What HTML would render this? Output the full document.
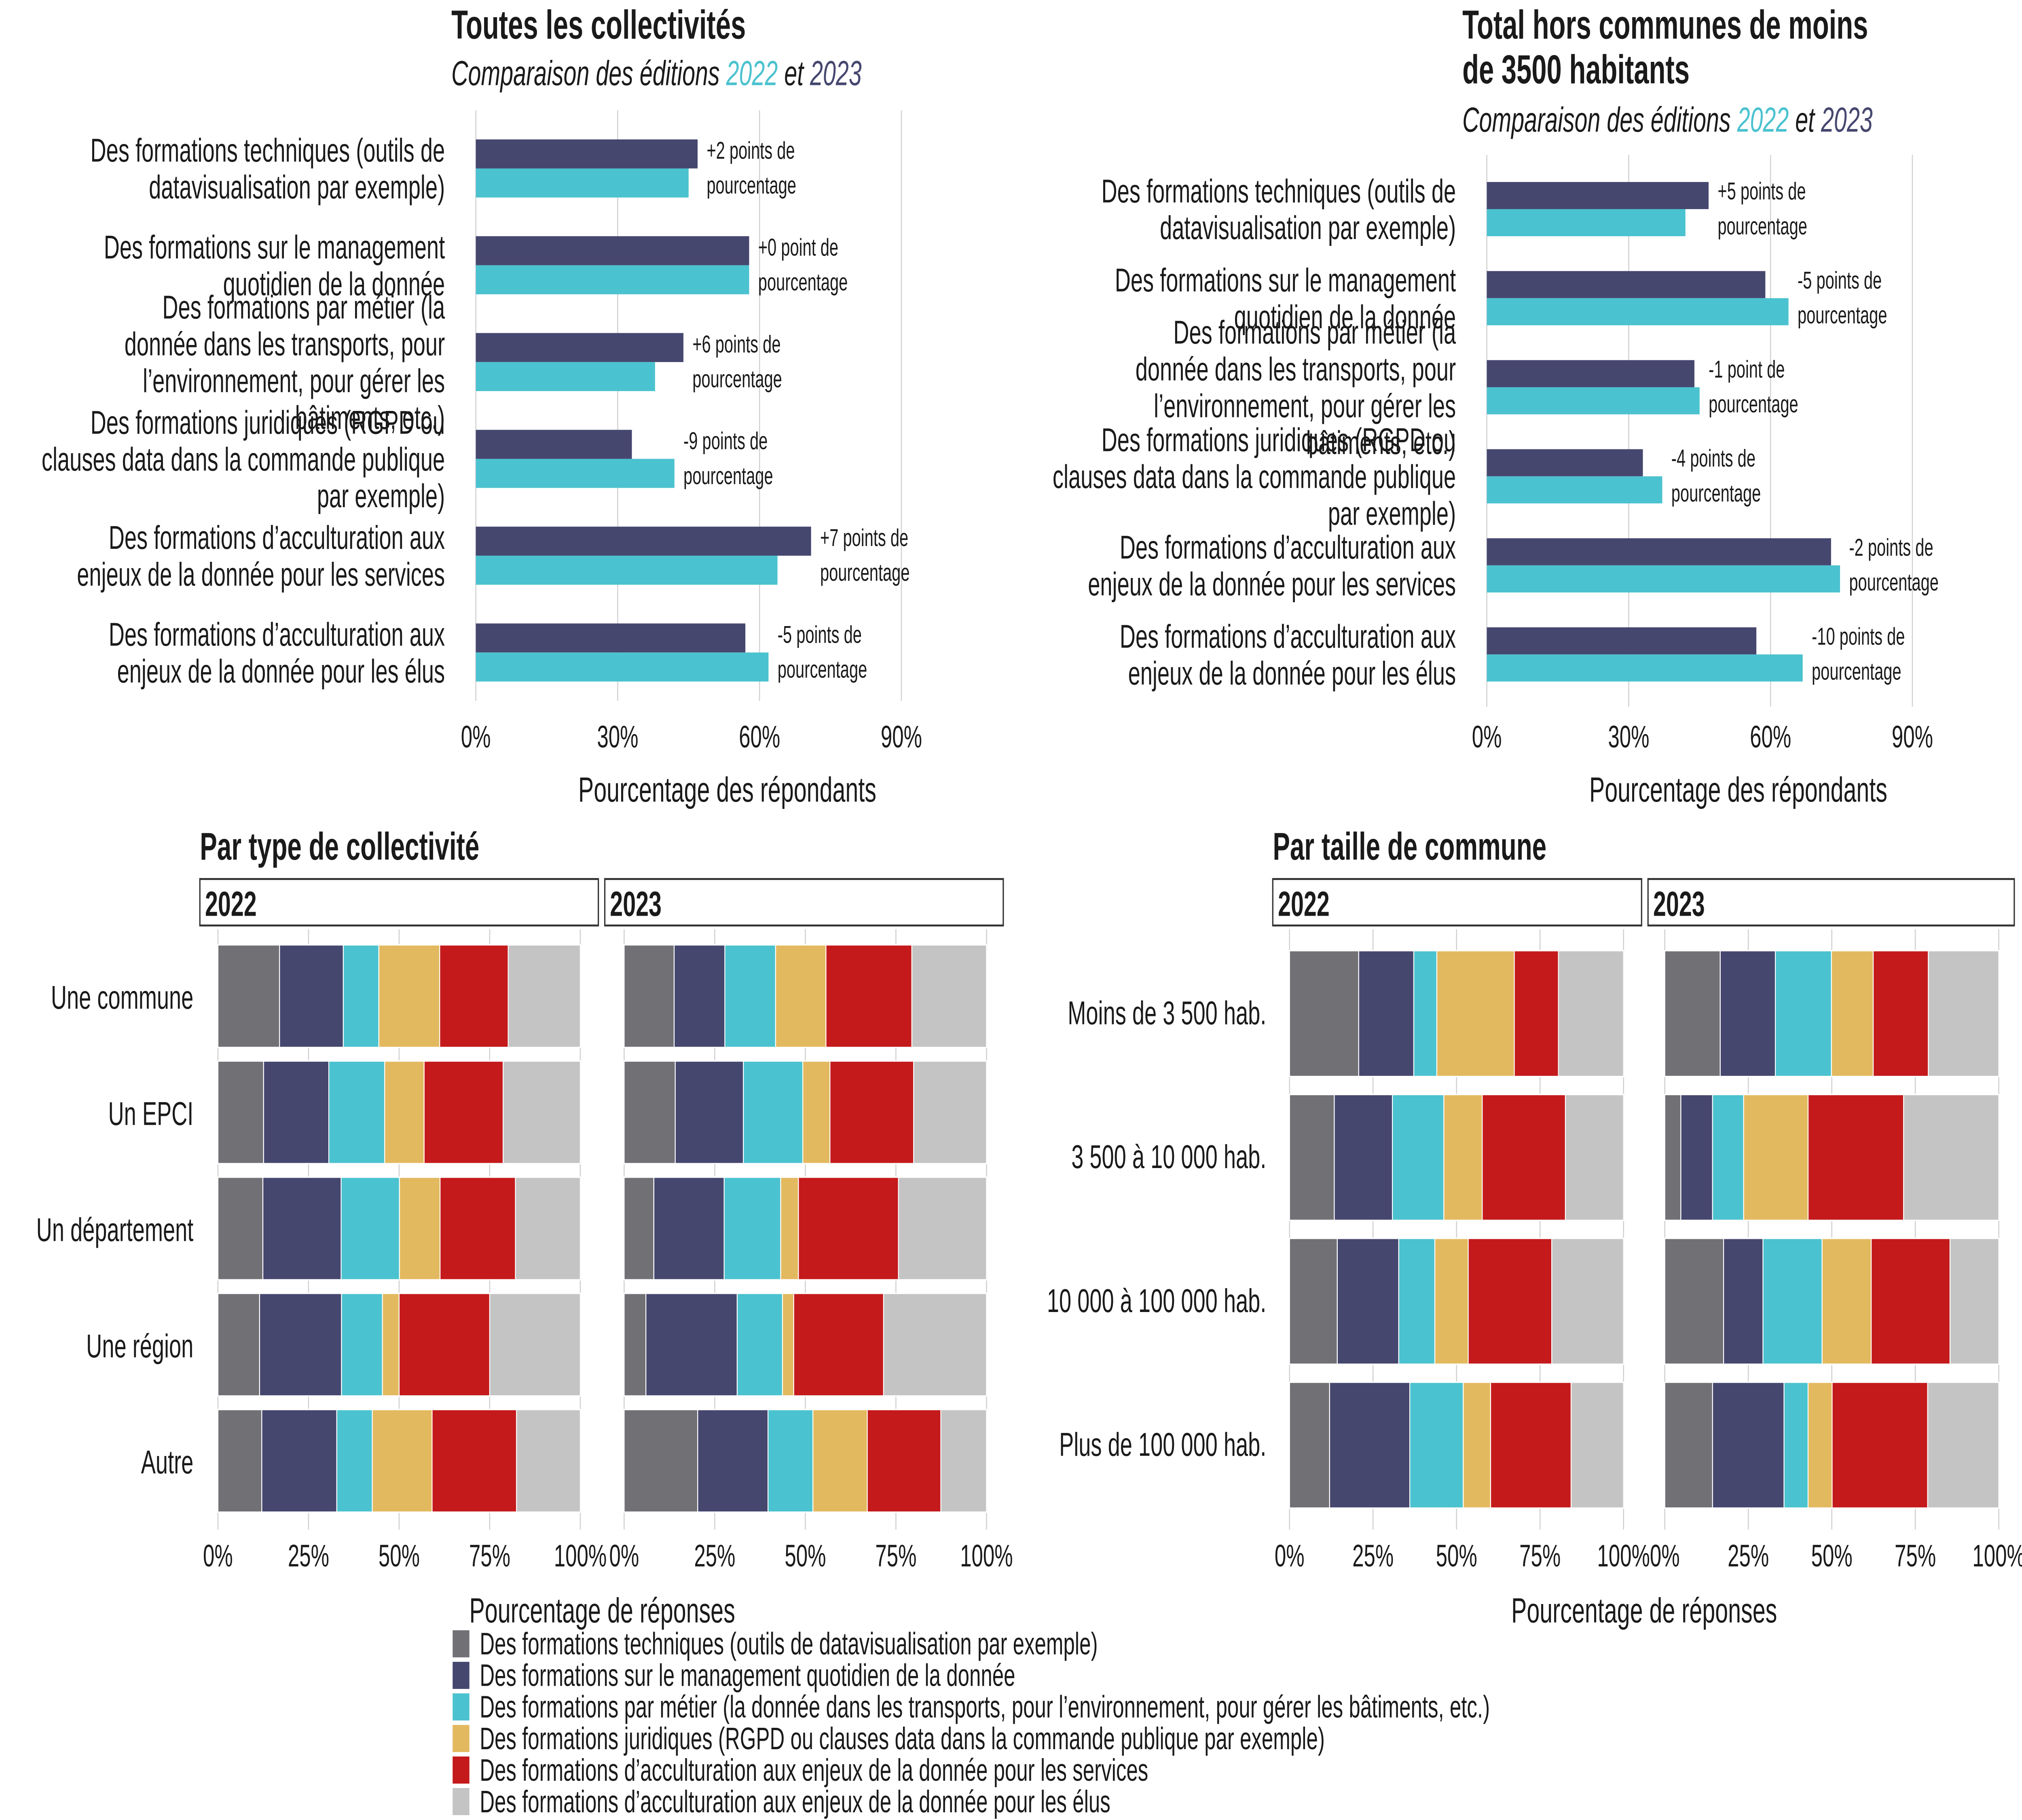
<!DOCTYPE html>
<html><head><meta charset="utf-8">
<style>
html,body{margin:0;padding:0;background:#fff;overflow:hidden;width:100vw;height:100vh;}
svg{display:block;width:100vw;height:100vh;}
text{font-family:"Liberation Sans",sans-serif;fill:#1a1a1a;}
</style></head>
<body>
<svg id="chart" viewBox="0 0 1568 940" preserveAspectRatio="none" xmlns="http://www.w3.org/2000/svg">
<rect x="0" y="0" width="1568" height="940" fill="#fff"/>
<g id="root"></g>
</svg>
<script>
// ---------- DATA ----------
const categoriesTop = [
 ["Des formations techniques (outils de","datavisualisation par exemple)"],
 ["Des formations sur le management","quotidien de la donnée"],
 ["Des formations par métier (la","donnée dans les transports, pour","l’environnement, pour gérer les","bâtiments, etc.)"],
 ["Des formations juridiques (RGPD ou","clauses data dans la commande publique","par exemple)"],
 ["Des formations d’acculturation aux","enjeux de la donnée pour les services"],
 ["Des formations d’acculturation aux","enjeux de la donnée pour les élus"]
];
const allValues2023 = [46.9, 57.8, 43.9, 33.0, 70.9, 57.0];
const allValues2022 = [45.0, 57.8, 37.9, 42.0, 63.8, 61.9];
const allDiffLabels = ["+2 points de","+0 point de","+6 points de","-9 points de","+7 points de","-5 points de"];
const bigValues2023 = [46.9, 58.9, 43.9, 33.0, 72.8, 57.0];
const bigValues2022 = [42.0, 63.8, 45.0, 37.1, 74.7, 66.8];
const bigDiffLabels = ["+5 points de","-5 points de","-1 point de","-4 points de","-2 points de","-10 points de"];
const topTicks = [0, 30, 60, 90];
const topTickLabels = ["0%","30%","60%","90%"];

const seriesNames = [
 "Des formations techniques (outils de datavisualisation par exemple)",
 "Des formations sur le management quotidien de la donnée",
 "Des formations par métier (la donnée dans les transports, pour l’environnement, pour gérer les bâtiments, etc.)",
 "Des formations juridiques (RGPD ou clauses data dans la commande publique par exemple)",
 "Des formations d’acculturation aux enjeux de la donnée pour les services",
 "Des formations d’acculturation aux enjeux de la donnée pour les élus"
];
const seriesColors = ["#717075","#46476f","#4bc2cf","#e3b95f","#c41a1b","#c4c4c4"];

const typeCategories = ["Une commune","Un EPCI","Un département","Une région","Autre"];
const type2022 = [
 [17.0,17.6,9.8,16.8,18.9,19.9],
 [12.6,18.0,15.4,10.9,21.8,21.3],
 [12.4,21.6,16.1,11.2,20.8,17.9],
 [11.5,22.6,11.3,4.6,25.0,25.0],
 [12.1,20.7,9.8,16.5,23.3,17.6]
];
const type2023 = [
 [13.8,14.0,14.0,13.9,23.7,20.6],
 [14.1,18.8,16.4,7.5,23.1,20.1],
 [8.2,19.4,15.6,4.9,27.6,24.3],
 [6.0,25.2,12.5,3.1,24.8,28.4],
 [20.3,19.4,12.4,15.0,20.3,12.6]
];
const sizeCategories = ["Moins de 3 500 hab.","3 500 à 10 000 hab.","10 000 à 100 000 hab.","Plus de 100 000 hab."];
const size2022 = [
 [20.7,16.5,6.9,23.2,13.2,19.5],
 [13.4,17.4,15.4,11.5,24.9,17.4],
 [14.3,18.4,10.8,10.0,25.0,21.5],
 [12.0,24.0,16.0,8.2,24.1,15.7]
];
const size2023 = [
 [16.6,16.5,16.8,12.5,16.5,21.1],
 [4.8,9.5,9.3,19.3,28.6,28.5],
 [17.6,11.8,17.7,14.7,23.6,14.6],
 [14.3,21.4,7.2,7.2,28.6,21.3]
];
const pctTicks = [0,25,50,75,100];
const pctTickLabels = ["0%","25%","50%","75%","100%"];

// ---------- helpers ----------
const NS = "http://www.w3.org/2000/svg";
const root = document.getElementById("root");
function mk(tag, attrs, parent){
  const e = document.createElementNS(NS, tag);
  for (const k in attrs) e.setAttribute(k, attrs[k]);
  (parent||root).appendChild(e);
  return e;
}
function txt(str, attrs, parent){
  const t = mk("text", attrs, parent);
  t.textContent = str;
  return t;
}

// ---------- top dodge charts ----------
function topChart(cfg){
  const g = mk("g", {});
  
  
  const xs = v => cfg.x0 + (v/90)*(cfg.x90-cfg.x0);
  cfg.titleLines.forEach((l,i)=>{
    const t = txt(l, {x:cfg.titleX, y:cfg.titleY + i*23, "font-size":21, "font-weight":"bold"}, g);
    
    
  });
  const sub = mk("text", {x:cfg.titleX, y:cfg.subY, "font-size":18, "font-style":"italic"}, g);
  
  
  const s1 = mk("tspan", {}, sub); s1.textContent = "Comparaison des éditions ";
  const s2 = mk("tspan", {fill:"#4bc2cf"}, sub); s2.textContent = "2022";
  const s3 = mk("tspan", {}, sub); s3.textContent = " et ";
  const s4 = mk("tspan", {fill:"#46476f"}, sub); s4.textContent = "2023";
  topTicks.forEach((v,i)=>{
    const l = mk("line", {x1:xs(v), x2:xs(v), y1:cfg.gridTop, y2:cfg.gridBot, stroke:"#d0d0d0", "stroke-width":0.8}, g);
    
    
    const t = txt(topTickLabels[i], {x:xs(v), y:cfg.tickY, "font-size":16, "text-anchor":"middle"}, g);
    
    
  });
  const at = txt("Pourcentage des répondants", {x:(xs(0)+xs(90))/2 + 30, y:cfg.axisY, "font-size":18, "text-anchor":"middle"}, g);
  
  
  categoriesTop.forEach((lines,i)=>{
    const cy = cfg.rowY0 + i*cfg.rowStep;
    const r1 = mk("rect", {x:xs(0), y:cy-cfg.bh, width:xs(cfg.v23[i])-xs(0), height:cfg.bh, fill:"#46476f"}, g);
    
    
    const r2 = mk("rect", {x:xs(0), y:cy, width:xs(cfg.v22[i])-xs(0), height:cfg.bh, fill:"#4bc2cf"}, g);
    
    
    const lx = xs(Math.max(cfg.v23[i], cfg.v22[i])) + 7;
    const a1 = txt(cfg.diffs[i], {x:lx, y:cy-5, "font-size":12.5, fill:"#333"}, g);
    
    
    const a2 = txt("pourcentage", {x:lx, y:cy+13, "font-size":12.5, fill:"#333"}, g);
    
    
    const n = lines.length;
    lines.forEach((l,j)=>{
      const t = txt(l, {x:cfg.labelX, y:cy + 6 + (j-(n-1)/2)*19, "font-size":17, "text-anchor":"end"}, g);
      
      
    });
  });
}
topChart({name:"chart-all-collectivities", titleLines:["Toutes les collectivités"], titleX:350, titleY:20, subY:44,
  x0:369, x90:699, gridTop:57, gridBot:362, tickY:386, axisY:414, rowY0:87, rowStep:50, bh:15,
  v23:allValues2023, v22:allValues2022, diffs:allDiffLabels, labelX:345});
topChart({name:"chart-excluding-small-communes", titleLines:["Total hors communes de moins","de 3500 habitants"], titleX:1134, titleY:20, subY:68,
  x0:1153, x90:1483, gridTop:80, gridBot:365, tickY:386, axisY:414, rowY0:108, rowStep:46, bh:14,
  v23:bigValues2023, v22:bigValues2022, diffs:bigDiffLabels, labelX:1129});

// ---------- stacked facets ----------
function stackedPanel(name, data, x0, x100, rowTop0, rowStep, bh, gTop, gBot){
  const g = mk("g", {});
  
  
  const xs = v => x0 + (v/100)*(x100-x0);
  pctTicks.forEach((v,i)=>{
    const l = mk("line", {x1:xs(v), x2:xs(v), y1:gTop, y2:gBot, stroke:"#d0d0d0", "stroke-width":0.8}, g);
    
    
    const t = txt(pctTickLabels[i], {x:xs(v), y:809, "font-size":16, "text-anchor":"middle"}, g);
    
    
  });
  data.forEach((row,i)=>{
    const top = rowTop0 + i*rowStep;
    const total = row.reduce((a,b)=>a+b,0);
    let acc = 0;
    row.forEach((v,k)=>{
      const a = acc/total*100, b = (acc+v)/total*100;
      const r = mk("rect", {x:xs(a), y:top, width:xs(b)-xs(a), height:bh, fill:seriesColors[k], stroke:"#fff", "stroke-width":0.7}, g);
      
      
      acc += v;
    });
  });
}
function strip(label, x1, x2){
  const r = mk("rect", {x:x1, y:454, width:x2-x1, height:24, fill:"#fff", stroke:"#333", "stroke-width":1});
  
  
  const t = txt(label, {x:x1+4, y:473, "font-size":18, "font-weight":"bold"});
  
  
}
let tt = txt("Par type de collectivité", {x:155, y:444, "font-size":20, "font-weight":"bold"});


tt = txt("Par taille de commune", {x:987, y:444, "font-size":20, "font-weight":"bold"});


strip("2022", 155, 464); strip("2023", 469, 778);
strip("2022", 987, 1273); strip("2023", 1278, 1562);

stackedPanel("panel-type-2022", type2022, 169, 450, 488, 60, 53, 480, 790);
stackedPanel("panel-type-2023", type2023, 484, 765, 488, 60, 53, 480, 790);
stackedPanel("panel-size-2022", size2022, 1000, 1259, 491, 74.3, 65, 480, 790);
stackedPanel("panel-size-2023", size2023, 1291, 1550, 491, 74.3, 65, 480, 790);

typeCategories.forEach((c,i)=>{
  const t = txt(c, {x:150, y:521 + i*60, "font-size":17, "text-anchor":"end"});
  
  
});
sizeCategories.forEach((c,i)=>{
  const t = txt(c, {x:982, y:529 + i*74.3, "font-size":17, "text-anchor":"end"});
  
  
});
tt = txt("Pourcentage de réponses", {x:467, y:838, "font-size":18, "text-anchor":"middle"});


tt = txt("Pourcentage de réponses", {x:1275, y:838, "font-size":18, "text-anchor":"middle"});



seriesNames.forEach((s,k)=>{
  const y = 842 + k*16.3;
  const r = mk("rect", {x:351, y:y, width:13, height:14, fill:seriesColors[k]});
  
  
  const t = txt(s, {x:372, y:y+12.5, "font-size":16});
  
  
});
</script>
</body></html>
